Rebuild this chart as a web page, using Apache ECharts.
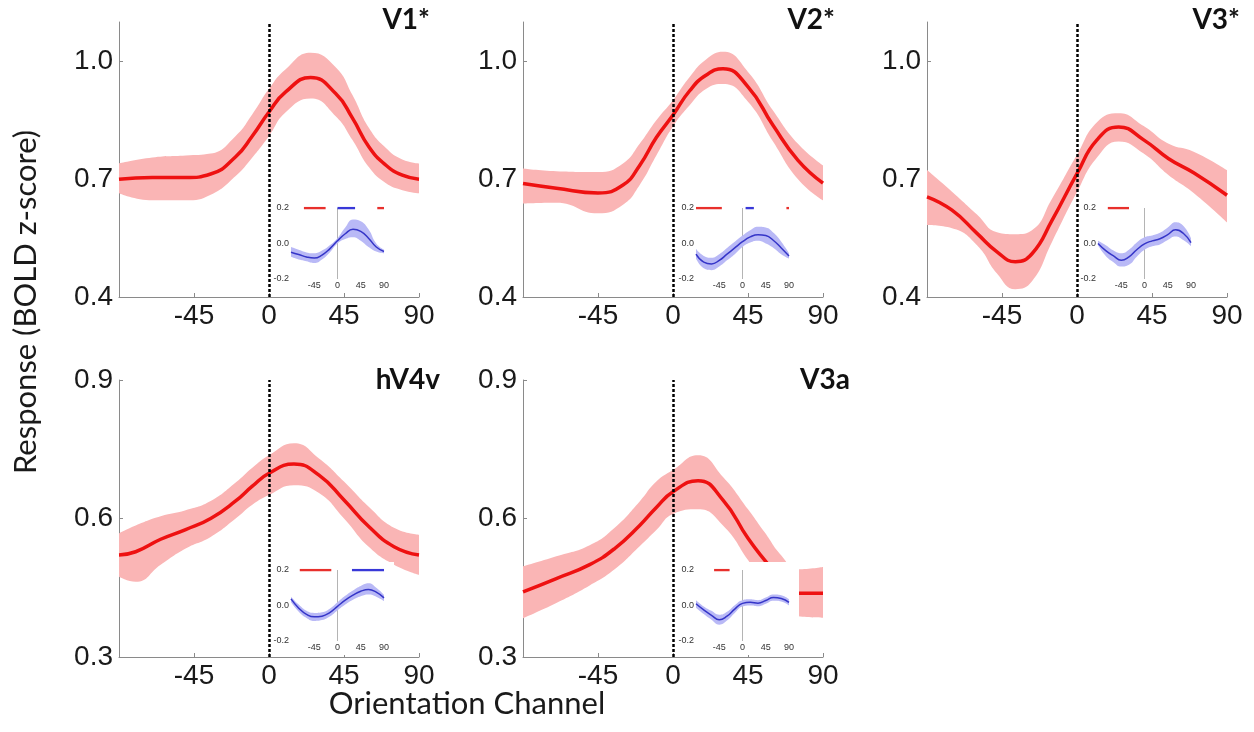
<!DOCTYPE html>
<html>
<head>
<meta charset="utf-8">
<script src="https://cdn.jsdelivr.net/npm/echarts@6/dist/echarts.min.js"></script>
<style>
  html, body { margin: 0; padding: 0; background: #fff; }
  #chart { width: 1254px; height: 732px; }
</style>
</head>
<body>
<div id="chart"></div>
<script>
// tick labels
const xTicks = [-45, 0, 45, 90];
const topYTicks = [0.4, 0.7, 1.0];
const bottomYTicks = [0.3, 0.6, 0.9];
const insetXTicks = [-45, 0, 45, 90];
const insetYTicks = [-0.2, 0.0, 0.2];

// main curves: orientation channel (deg), mean response, shaded band
const v1Angles = [-90, -70, -50, -35, -20, -10, 0, 10, 25, 40, 50, 60, 70, 80, 90];
const v1Mean   = [0.700, 0.704, 0.704, 0.713, 0.757, 0.810, 0.871, 0.922, 0.959, 0.918, 0.856, 0.782, 0.736, 0.710, 0.700];
const v1Upper  = [0.740, 0.755, 0.760, 0.765, 0.810, 0.865, 0.930, 0.980, 1.022, 0.985, 0.915, 0.830, 0.780, 0.750, 0.740];
const v1Lower  = [0.664, 0.646, 0.646, 0.660, 0.708, 0.755, 0.810, 0.870, 0.905, 0.860, 0.800, 0.730, 0.690, 0.672, 0.664];

const v2Angles = [-90, -70, -45, -30, -20, -10, 0, 10, 20, 30, 45, 60, 75, 90];
const v2Mean   = [0.689, 0.677, 0.665, 0.685, 0.735, 0.806, 0.863, 0.925, 0.965, 0.981, 0.935, 0.837, 0.748, 0.690];
const v2Upper  = [0.727, 0.720, 0.718, 0.740, 0.790, 0.850, 0.901, 0.960, 1.005, 1.024, 0.973, 0.875, 0.790, 0.735];
const v2Lower  = [0.638, 0.640, 0.613, 0.635, 0.685, 0.760, 0.834, 0.888, 0.930, 0.942, 0.897, 0.796, 0.700, 0.646];

const v3Angles = [-90, -75, -60, -48, -37, -27, -15, 0, 12, 25, 40, 55, 70, 90];
const v3Mean   = [0.655, 0.621, 0.562, 0.515, 0.490, 0.510, 0.595, 0.714, 0.800, 0.833, 0.800, 0.752, 0.716, 0.659];
const v3Upper  = [0.723, 0.668, 0.610, 0.565, 0.560, 0.570, 0.650, 0.762, 0.845, 0.868, 0.835, 0.790, 0.770, 0.723];
const v3Lower  = [0.583, 0.575, 0.532, 0.460, 0.420, 0.440, 0.540, 0.667, 0.755, 0.796, 0.765, 0.710, 0.665, 0.590];

const hv4Angles = [-90, -80, -65, -50, -35, -20, -10, 0, 15, 30, 45, 60, 75, 90];
const hv4Mean   = [0.521, 0.528, 0.555, 0.576, 0.600, 0.638, 0.670, 0.698, 0.718, 0.694, 0.640, 0.582, 0.539, 0.521];
const hv4Upper  = [0.568, 0.585, 0.605, 0.618, 0.638, 0.678, 0.710, 0.737, 0.763, 0.730, 0.680, 0.625, 0.580, 0.565];
const hv4Lower  = [0.474, 0.463, 0.500, 0.535, 0.560, 0.600, 0.630, 0.651, 0.672, 0.655, 0.600, 0.538, 0.500, 0.478];

const v3aAngles = [-90, -70, -50, -35, -20, -10, 0, 15, 30, 45, 55, 65, 75, 90];
const v3aMean   = [0.441, 0.470, 0.500, 0.535, 0.585, 0.624, 0.658, 0.682, 0.640, 0.557, 0.510, 0.468, 0.438, 0.438];
const v3aUpper  = [0.496, 0.518, 0.542, 0.580, 0.637, 0.680, 0.705, 0.737, 0.690, 0.620, 0.570, 0.520, 0.490, 0.495];
const v3aLower  = [0.384, 0.417, 0.455, 0.490, 0.540, 0.575, 0.610, 0.620, 0.585, 0.510, 0.455, 0.410, 0.388, 0.385];

// inset curves (difference) + significance segments [from, to] drawn at 0.2
const insetAngles = [-90, -75, -60, -45, -30, -15, 0, 15, 30, 45, 60, 75, 90];

const v1InMean  = [-0.049, -0.062, -0.076, -0.082, -0.065, -0.030, 0.015, 0.055, 0.080, 0.068, 0.030, -0.020, -0.045];
const v1InUpper = [-0.020, -0.035, -0.050, -0.055, -0.040, -0.010, 0.030, 0.090, 0.135, 0.125, 0.080, 0.000, -0.035];
const v1InLower = [-0.075, -0.090, -0.100, -0.110, -0.090, -0.050, 0.000, 0.025, 0.035, 0.015, -0.020, -0.045, -0.055];
const v1RedSig  = [[-65, -23], [77, 90]];
const v1BlueSig = [[0, 34]];

const v2InMean  = [-0.060, -0.105, -0.115, -0.095, -0.060, -0.025, 0.010, 0.037, 0.050, 0.045, 0.017, -0.025, -0.070];
const v2InUpper = [-0.030, -0.070, -0.080, -0.060, -0.025, 0.010, 0.045, 0.075, 0.095, 0.090, 0.060, 0.010, -0.055];
const v2InLower = [-0.085, -0.140, -0.150, -0.130, -0.095, -0.060, -0.020, 0.005, 0.015, 0.000, -0.025, -0.060, -0.085];
const v2RedSig  = [[-90, -40], [85, 90]];
const v2BlueSig = [[6, 22]];

const v3InMean  = [0.000, -0.040, -0.070, -0.094, -0.075, -0.035, -0.002, 0.015, 0.027, 0.050, 0.077, 0.058, 0.005];
const v3InUpper = [0.015, -0.010, -0.040, -0.055, -0.035, 0.005, 0.035, 0.045, 0.060, 0.090, 0.120, 0.100, 0.030];
const v3InLower = [-0.010, -0.070, -0.105, -0.130, -0.120, -0.075, -0.035, -0.015, -0.005, 0.020, 0.040, 0.020, -0.015];
const v3RedSig  = [[-71, -30]];
const v3BlueSig = [];

const hv4InMean  = [0.037, -0.015, -0.050, -0.064, -0.060, -0.040, -0.005, 0.030, 0.058, 0.080, 0.090, 0.075, 0.043];
const hv4InUpper = [0.050, 0.005, -0.030, -0.042, -0.038, -0.018, 0.018, 0.055, 0.085, 0.110, 0.125, 0.100, 0.060];
const hv4InLower = [0.020, -0.035, -0.070, -0.087, -0.082, -0.062, -0.028, 0.005, 0.032, 0.052, 0.062, 0.050, 0.025];
const hv4RedSig  = [[-73, -12]];
const hv4BlueSig = [[28, 90]];

const v3aInMean  = [0.010, -0.025, -0.055, -0.080, -0.060, -0.020, 0.012, 0.018, 0.013, 0.028, 0.045, 0.040, 0.018];
const v3aInUpper = [0.030, -0.005, -0.030, -0.052, -0.035, 0.002, 0.030, 0.035, 0.030, 0.045, 0.062, 0.058, 0.035];
const v3aInLower = [-0.012, -0.048, -0.080, -0.108, -0.085, -0.042, -0.006, 0.000, -0.004, 0.010, 0.027, 0.022, 0.000];
const v3aRedSig  = [[-55, -25]];
const v3aBlueSig = [];

const titles = ['V1*', 'V2*', 'V3*', 'hV4v', 'V3a'];

// layout of each panel (px)
const panels = [
  { x: v1Angles, mean: v1Mean, upper: v1Upper, lower: v1Lower, inMean: v1InMean, inUpper: v1InUpper, inLower: v1InLower, red: v1RedSig, blue: v1BlueSig,
    yTicks: topYTicks, yMin: 0.4, yMax: 1.1, left: 119, top: 22, height: 275, titleRight: 430, titleTop: 6, inLeft: 291, inTop: 208 },
  { x: v2Angles, mean: v2Mean, upper: v2Upper, lower: v2Lower, inMean: v2InMean, inUpper: v2InUpper, inLower: v2InLower, red: v2RedSig, blue: v2BlueSig,
    yTicks: topYTicks, yMin: 0.4, yMax: 1.1, left: 523, top: 22, height: 275, titleRight: 835, titleTop: 6, inLeft: 696, inTop: 208 },
  { x: v3Angles, mean: v3Mean, upper: v3Upper, lower: v3Lower, inMean: v3InMean, inUpper: v3InUpper, inLower: v3InLower, red: v3RedSig, blue: v3BlueSig,
    yTicks: topYTicks, yMin: 0.4, yMax: 1.1, left: 927, top: 22, height: 275, titleRight: 1240, titleTop: 6, inLeft: 1098, inTop: 208 },
  { x: hv4Angles, mean: hv4Mean, upper: hv4Upper, lower: hv4Lower, inMean: hv4InMean, inUpper: hv4InUpper, inLower: hv4InLower, red: hv4RedSig, blue: hv4BlueSig,
    yTicks: bottomYTicks, yMin: 0.3, yMax: 0.9, left: 119, top: 380, height: 277, titleRight: 440, titleTop: 366, inLeft: 291, inTop: 570 },
  { x: v3aAngles, mean: v3aMean, upper: v3aUpper, lower: v3aLower, inMean: v3aInMean, inUpper: v3aInUpper, inLower: v3aInLower, red: v3aRedSig, blue: v3aBlueSig,
    yTicks: bottomYTicks, yMin: 0.3, yMax: 0.9, left: 523, top: 380, height: 277, titleRight: 850, titleTop: 366, inLeft: 696, inTop: 570 }
];

const PLOT_W = 300;
const INSET_W = 93;
const INSET_H = 71;
const AXIS_GRAY = '#8a8a8a';
const NUM_FONT = 'Liberation Sans';
const TEXT_FONT = 'Lato';

const chart = echarts.init(document.getElementById('chart'));

// [x, y] pairs
const pairs = (xs, ys) => xs.map((x, i) => [x, ys[i]]);
// band pairs written as [y, x] so the stack runs on y (encode swaps them back)
const bandPairs = (xs, ys) => xs.map((x, i) => [ys[i], x]);
const diff = (a, b) => a.map((v, i) => +(v - b[i]).toFixed(4));
// segments -> one broken line at y = 0.2
const segLine = (segs) => {
  const out = [];
  segs.forEach((s, k) => {
    if (k > 0) out.push(['-', '-']);
    out.push([s[0], 0.2], [s[1], 0.2]);
  });
  return out;
};

// lower edge + (upper - lower) stacked on top, filled between
const bandSeries = (axisIdx, stackId, xs, lo, hi, color, z) => {
  const base = {
    type: 'line', xAxisIndex: axisIdx, yAxisIndex: axisIdx, stack: stackId, stackStrategy: 'all',
    smooth: true, symbol: 'none', encode: { x: 1, y: 0 },
    lineStyle: { width: 0, opacity: 0 }, silent: true, z: z
  };
  return [
    Object.assign({}, base, { data: bandPairs(xs, lo) }),
    Object.assign({}, base, { data: bandPairs(xs, diff(hi, lo)), areaStyle: { color: color, opacity: 1 } })
  ];
};

const grid = [], xAxis = [], yAxis = [], series = [], title = [], graphic = [];

panels.forEach((p, i) => {
  // ---- main panel ----
  const gi = grid.length;
  grid.push({ left: p.left, top: p.top, width: PLOT_W, height: p.height });
  xAxis.push({
    type: 'value', gridIndex: gi, min: -90, max: 90,
    axisLine: { show: true, onZero: false, lineStyle: { color: AXIS_GRAY, width: 1 } },
    axisTick: { show: true, inside: true, length: 4, customValues: xTicks, lineStyle: { color: AXIS_GRAY } },
    axisLabel: { customValues: xTicks, fontSize: 28, fontFamily: NUM_FONT, color: '#1a1a1a', margin: 5 },
    splitLine: { show: false }
  });
  yAxis.push({
    type: 'value', gridIndex: gi, min: p.yMin, max: p.yMax,
    axisLine: { show: true, onZero: false, lineStyle: { color: AXIS_GRAY, width: 1 } },
    axisTick: { show: true, inside: true, length: 4, customValues: p.yTicks, lineStyle: { color: AXIS_GRAY } },
    axisLabel: { customValues: p.yTicks, fontSize: 28, fontFamily: NUM_FONT, color: '#1a1a1a', margin: 6,
      formatter: (v) => v.toFixed(1) },
    splitLine: { show: false }
  });

  series.push(...bandSeries(gi, 'band' + i, p.x, p.lower, p.upper, '#fab5b5', 2));
  series.push({
    type: 'line', xAxisIndex: gi, yAxisIndex: gi, smooth: true,
    data: pairs(p.x, p.mean),
    symbol: 'none', lineStyle: { color: '#ee1111', width: 3.5 }, silent: true, z: 3,
    markLine: {
      silent: true, symbol: ['none', 'none'], label: { show: false },
      lineStyle: { color: '#000', type: [3, 2], width: 2.5 },
      data: [{ xAxis: 0 }]
    }
  });

  // white box behind the inset
  graphic.push({
    type: 'rect', silent: true, z: 10,
    shape: { x: p.inLeft - 18, y: p.inTop - 8, width: INSET_W + 28, height: INSET_H + 22 },
    style: { fill: '#ffffff' }
  });

  // ---- inset ----
  const ii = grid.length;
  grid.push({ left: p.inLeft, top: p.inTop, width: INSET_W, height: INSET_H });
  xAxis.push({
    type: 'value', gridIndex: ii, min: -90, max: 90, z: 11,
    axisLine: { show: false, onZero: false },
    axisTick: { show: false },
    axisLabel: { customValues: insetXTicks, fontSize: 9, fontFamily: NUM_FONT, color: '#333', margin: 2 },
    splitLine: { show: false }
  });
  yAxis.push({
    type: 'value', gridIndex: ii, min: -0.2, max: 0.2, z: 11,
    axisLine: { show: false, onZero: false },
    axisTick: { show: false },
    axisLabel: { customValues: insetYTicks, fontSize: 9, fontFamily: NUM_FONT, color: '#333', margin: 2,
      formatter: (v) => v.toFixed(1) },
    splitLine: { show: false }
  });
  series.push(...bandSeries(ii, 'inband' + i, insetAngles, p.inLower, p.inUpper, '#b9b9f6', 12));
  series.push({
    type: 'line', xAxisIndex: ii, yAxisIndex: ii, smooth: true,
    data: pairs(insetAngles, p.inMean),
    symbol: 'none', lineStyle: { color: '#3535c8', width: 1.5 }, silent: true, z: 13,
    markLine: {
      silent: true, z: 11, symbol: ['none', 'none'], label: { show: false },
      lineStyle: { color: '#b4b4b4', type: 'solid', width: 1 },
      data: [{ xAxis: 0 }]
    }
  });
  if (p.red.length) {
    series.push({
      type: 'line', xAxisIndex: ii, yAxisIndex: ii, data: segLine(p.red), connectNulls: false,
      symbol: 'none', lineStyle: { color: '#e8302c', width: 2.5 }, silent: true, z: 13
    });
  }
  if (p.blue.length) {
    series.push({
      type: 'line', xAxisIndex: ii, yAxisIndex: ii, data: segLine(p.blue), connectNulls: false,
      symbol: 'none', lineStyle: { color: '#3838d8', width: 2.5 }, silent: true, z: 13
    });
  }

  title.push({
    text: titles[i], right: 1254 - p.titleRight, top: p.titleTop, padding: 0,
    textStyle: { fontFamily: TEXT_FONT, fontWeight: 'bold', fontSize: 28, color: '#111' }
  });
});

// shared axis names
graphic.push({
  type: 'text', x: 26, y: 302, rotation: Math.PI / 2, silent: true,
  style: { text: 'Response (BOLD z-score)', font: '31px ' + TEXT_FONT, fill: '#1a1a1a', align: 'center', verticalAlign: 'middle' }
});
graphic.push({
  type: 'text', x: 467, y: 704, silent: true,
  style: { text: 'Orientation Channel', font: '31px ' + TEXT_FONT, fill: '#1a1a1a', align: 'center', verticalAlign: 'middle' }
});

chart.setOption({
  animation: false,
  backgroundColor: '#ffffff',
  title,
  grid,
  xAxis,
  yAxis,
  series,
  graphic
});
</script>
</body>
</html>
